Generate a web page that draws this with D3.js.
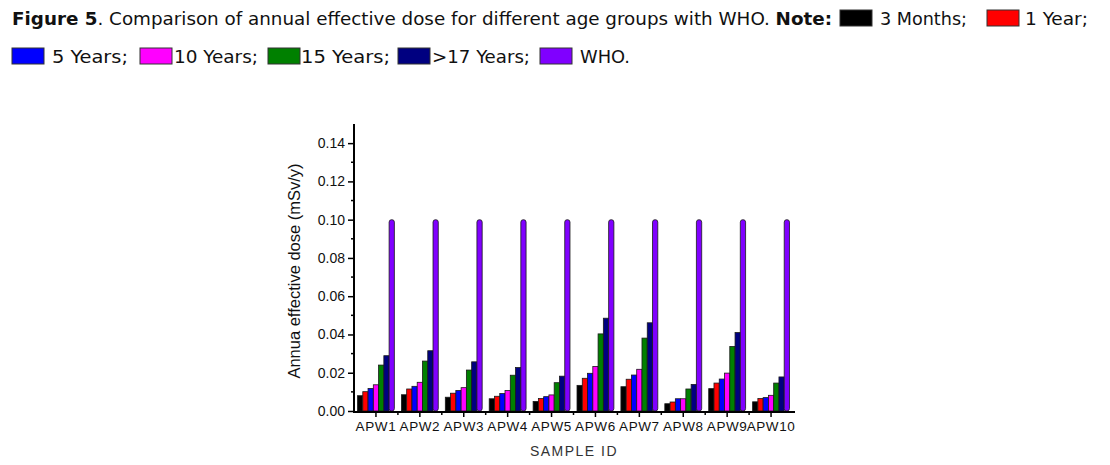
<!DOCTYPE html>
<html>
<head>
<meta charset="utf-8">
<script src="https://cdn.jsdelivr.net/npm/d3@7"></script>
<style>
body{margin:0;background:#fff;}
svg{display:block;}
</style>
</head>
<body>
<div id="chart"></div>
<script>
// sample ids on the x axis
var samples=["APW1","APW2","APW3","APW4","APW5","APW6","APW7","APW8","APW9","APW10"];
var groups=["3 Months","1 Year","5 Years","10 Years","15 Years",">17 Years","WHO"];
var colors=["#000000","#ff0000","#0000ff","#ff00ff","#008000","#000080","#8000ff"];

// annual effective dose (mSv/y)
var months3=[0.0080,0.0085,0.0072,0.0064,0.0050,0.0134,0.0127,0.0038,0.0117,0.0048];
var year1  =[0.0101,0.0115,0.0093,0.0077,0.0065,0.0171,0.0166,0.0047,0.0146,0.0065];
var years5 =[0.0118,0.0129,0.0107,0.0091,0.0075,0.0197,0.0188,0.0064,0.0167,0.0070];
var years10=[0.0137,0.0150,0.0122,0.0107,0.0084,0.0233,0.0218,0.0064,0.0198,0.0082];
var years15=[0.0240,0.0261,0.0214,0.0187,0.0148,0.0403,0.0381,0.0115,0.0337,0.0146];
var years17=[0.0289,0.0315,0.0257,0.0227,0.0182,0.0485,0.0461,0.0139,0.0410,0.0178];
var who    =[0.10,0.10,0.10,0.10,0.10,0.10,0.10,0.10,0.10,0.10];
var series=[months3,year1,years5,years10,years15,years17,who];

var yTicks=[0,0.02,0.04,0.06,0.08,0.10,0.12,0.14];

var width=1110, height=465;
var svg=d3.select("#chart").append("svg")
  .attr("width",width)
  .attr("height",height);

// caption + legend on top
var capFont="'DejaVu Sans Condensed','Liberation Sans Narrow','Arial Narrow',sans-serif";
var cap=svg.append("g").attr("font-family",capFont).attr("font-size",18).attr("fill","#111");

var t1=cap.append("text").attr("x",12).attr("y",25)
  .attr("textLength",820).attr("lengthAdjust","spacingAndGlyphs");
t1.append("tspan").attr("font-weight","bold").text("Figure 5");
t1.append("tspan").text(". Comparison of annual effective dose for different age groups with WHO. ");
t1.append("tspan").attr("font-weight","bold").text("Note:");

var legendItems=[
  {i:0,sx:840,sy:10,tx:880,ty:25,tw:87,label:"3 Months;"},
  {i:1,sx:987,sy:10,tx:1025,ty:25,tw:63,label:"1 Year;"},
  {i:2,sx:12,sy:48,tx:52,ty:63,tw:76,label:"5 Years;"},
  {i:3,sx:140,sy:48,tx:174,ty:63,tw:84,label:"10 Years;"},
  {i:4,sx:268,sy:48,tx:301,ty:63,tw:89,label:"15 Years;"},
  {i:5,sx:398,sy:48,tx:432,ty:63,tw:98,label:">17 Years;"},
  {i:6,sx:540,sy:48,tx:580,ty:63,tw:50,label:"WHO."}
];
cap.selectAll("rect")
  .data(legendItems)
  .enter()
  .append("rect")
  .attr("x",function(d){return d.sx;})
  .attr("y",function(d){return d.sy;})
  .attr("width",32)
  .attr("height",16)
  .attr("fill",function(d){return colors[d.i];})
  .attr("stroke","#333")
  .attr("stroke-width",1);
cap.selectAll("text.leg")
  .data(legendItems)
  .enter()
  .append("text")
  .attr("class","leg")
  .attr("x",function(d){return d.tx;})
  .attr("y",function(d){return d.ty;})
  .attr("textLength",function(d){return d.tw;})
  .attr("lengthAdjust","spacingAndGlyphs")
  .text(function(d){return d.label;});

// plot area
var x0=d3.scaleBand().domain(samples).range([354,793]).paddingInner(0.16).paddingOuter(0.08);
var x1=d3.scaleBand().domain(d3.range(groups.length)).range([0,x0.bandwidth()]);
var y=d3.scaleLinear().domain([0,0.15]).range([411,124]);

var plot=svg.append("g");

var gs=plot.selectAll("g.grp")
  .data(samples)
  .enter()
  .append("g")
  .attr("class","grp")
  .attr("transform",function(d){return "translate("+x0(d)+",0)";});

gs.selectAll("rect")
  .data(function(d,si){
    return series.map(function(s,k){return {k:k,v:s[si]};});
  })
  .enter()
  .append("rect")
  .attr("x",function(d){return x1(d.k);})
  .attr("y",function(d){return y(d.v);})
  .attr("width",x1.bandwidth())
  .attr("height",function(d){return y(0)-y(d.v);})
  .attr("rx",function(d){return d.k==6?2.5:0;})
  .attr("fill",function(d){return colors[d.k];})
  .attr("stroke","#1a1a1a")
  .attr("stroke-width",0.8);

// y axis
var yAxis=d3.axisLeft(y).tickValues(yTicks).tickSize(6).tickFormat(d3.format(".2f"));
var ya=plot.append("g").attr("transform","translate(354,0)").call(yAxis);
ya.select(".domain").attr("stroke-width",2).attr("d","M0,124V412");
ya.selectAll(".tick line").attr("stroke-width",1.5);
ya.selectAll(".tick text")
  .attr("font-family","'Liberation Sans',Arial,sans-serif")
  .attr("font-size",14)
  .attr("x",-9)
  .attr("fill","#111");
var yMinor=d3.range(0.01,0.15,0.02);
ya.selectAll("line.minor")
  .data(yMinor)
  .enter()
  .append("line")
  .attr("class","minor")
  .attr("x1",-3).attr("x2",0)
  .attr("y1",function(d){return y(d);})
  .attr("y2",function(d){return y(d);})
  .attr("stroke","#000")
  .attr("stroke-width",1.5);

// x axis
var xAxis=d3.axisBottom(x0).tickSize(5).tickSizeOuter(0);
var xa=plot.append("g").attr("transform","translate(0,412)").call(xAxis);
xa.select(".domain").attr("stroke-width",2).attr("d","M353,0H795");
xa.selectAll(".tick line").attr("stroke-width",1.5);
xa.selectAll(".tick text")
  .attr("font-family","'Liberation Sans',Arial,sans-serif")
  .attr("font-size",13.5)
  .attr("letter-spacing","0.6px")
  .attr("dy","0.8em")
  .attr("fill","#111");
xa.selectAll("line.minor")
  .data(samples.slice(1))
  .enter()
  .append("line")
  .attr("class","minor")
  .attr("x1",function(d){return x0(d)-x0.step()*x0.paddingInner()/2;})
  .attr("x2",function(d){return x0(d)-x0.step()*x0.paddingInner()/2;})
  .attr("y1",0).attr("y2",3)
  .attr("stroke","#000")
  .attr("stroke-width",1.5);

// axis titles
svg.append("text")
  .attr("transform","translate(300,271) rotate(-90)")
  .attr("text-anchor","middle")
  .attr("font-family","'Liberation Sans',Arial,sans-serif")
  .attr("font-size",16.5)
  .attr("fill","#111")
  .text("Annua effective dose (mSv/y)");

svg.append("text")
  .attr("x",574)
  .attr("y",456)
  .attr("text-anchor","middle")
  .attr("font-family","'Liberation Sans',Arial,sans-serif")
  .attr("font-size",14)
  .attr("letter-spacing","1.5px")
  .attr("fill","#333")
  .text("SAMPLE ID");
</script>
</body>
</html>
